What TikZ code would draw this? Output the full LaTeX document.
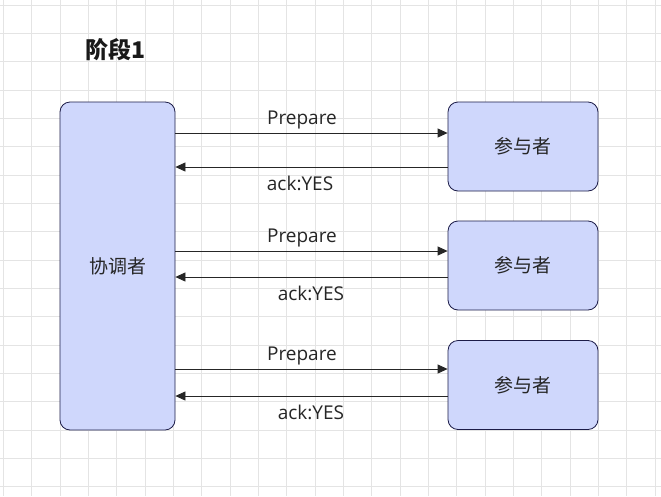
\documentclass[tikz,border=0pt]{standalone}
\usepackage{fontspec}
\setmainfont{Open Sans}
\newfontfamily\cjk{Noto Sans CJK SC}
\usetikzlibrary{positioning,arrows.meta}

\definecolor{boxfill}{RGB}{207,215,252}
\definecolor{boxline}{RGB}{28,28,72}
\definecolor{gridline}{RGB}{228,228,228}

\begin{document}
\begin{tikzpicture}[x=1pt,y=-1pt,
    actor/.style={draw=boxline, fill=boxfill, rounded corners=10pt, line width=0.8pt,
                  font=\cjk\fontsize{19}{22}\selectfont, text=black!85},
    msg/.style={draw=black!85, line width=0.8pt, -{Triangle[length=10pt,width=9pt]}},
    lbl/.style={font=\fontsize{19}{23}\selectfont, text=black!85}]
    \useasboundingbox (0,0) rectangle (661,496);
    \fill[white] (0,0) rectangle (661,496);

    % background grid
    \foreach \k in {0,...,23} {
      \draw[gridline, line width=0.6pt] (3.33+28.33*\k, 0) -- (3.33+28.33*\k, 496);
    };
    \foreach \k in {0,...,17} {
      \draw[gridline, line width=0.6pt] (0, 5+28.33*\k) -- (661, 5+28.33*\k);
    };

    % phase title
    \node[font=\cjk\bfseries\fontsize{23}{27}\selectfont, text=black!90] (title) at (116,50) {阶段1};

    % coordinator and participants
    \node[actor, minimum width=115pt, minimum height=328pt] (coord) at (117.5,266) {协调者};
    \node[actor, minimum width=150pt, minimum height=89pt] (p1) at (523,146.5) {参与者};
    \node[actor, minimum width=150pt, minimum height=89pt] (p2) at (523,265.5) {参与者};
    \node[actor, minimum width=150pt, minimum height=89pt] (p3) at (523,385)   {参与者};

    % prepare / ack messages
    \foreach \i/\up/\dn/\ap in {1/13.5/-20.5/0.542, 2/14.5/-11.5/0.502, 3/16/-11/0.502} {
      \coordinate (in\i)  at ([yshift=\up pt]p\i.west);
      \coordinate (out\i) at ([yshift=\dn pt]p\i.west);
      \draw[msg] (in\i -| coord.east) -- node[lbl, pos=0.465, yshift=13pt] (prep\i) {Prepare} (in\i);
      \draw[msg] (out\i) -- node[lbl, pos=\ap, yshift=-16pt] (ack\i) {ack:YES} (out\i -| coord.east);
    };
\end{tikzpicture}
\end{document}
